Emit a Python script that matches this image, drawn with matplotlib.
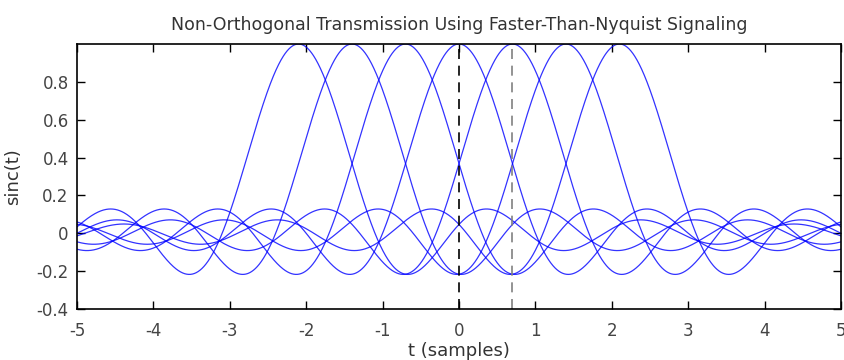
import numpy as np
import matplotlib
matplotlib.use("Agg")
import matplotlib.pyplot as plt

# Data
pulse_centers = [-2.1, -1.4, -0.7, 0.0, 0.7, 1.4, 2.1]   # peak positions of the shifted sinc pulses
sample_marks = [0.0, 0.7]                                # dashed sampling instants
mark_colors = ["black", "#808080"]
x_ticks = [-5, -4, -3, -2, -1, 0, 1, 2, 3, 4, 5]
y_ticks = [-0.4, -0.2, 0, 0.2, 0.4, 0.6, 0.8]
y_tick_labels = ["-0.4", "-0.2", "0", "0.2", "0.4", "0.6", "0.8"]

title = "Non-Orthogonal Transmission Using Faster-Than-Nyquist Signaling"
xlabel = "t (samples)"
ylabel = "sinc(t)"

fig = plt.figure(figsize=(8.45, 3.6), dpi=100)
ax = fig.add_axes([77 / 845, 1 - 309 / 360, (841 - 77) / 845, (309 - 44) / 360])

t = np.linspace(-5, 5, 2001)
for c in pulse_centers:
    ax.plot(t, np.sinc(t - c), color="#0000ff", lw=0.9, alpha=0.8)

for m, col in zip(sample_marks, mark_colors):
    ax.axvline(m, color=col, lw=1.2, ls=(0, (6, 4)))

ax.set_xlim(-5, 5)
ax.set_ylim(-0.4, 1.0)
ax.set_xticks(x_ticks)
ax.set_xticklabels([str(v) for v in x_ticks])
ax.set_yticks(y_ticks)
ax.set_yticklabels(y_tick_labels)
ax.tick_params(direction="in", length=6, width=1, top=True, right=True,
               labelsize=12, colors="black", labelcolor="#444444")
ax.tick_params(axis="x", pad=9)
ax.tick_params(axis="y", pad=6)
for s in ax.spines.values():
    s.set_linewidth(1.2)

ax.set_title(title, fontsize=12.5, color="#333333", pad=10)
ax.set_xlabel(xlabel, fontsize=13, color="#333333", labelpad=2)
ax.set_ylabel(ylabel, fontsize=13, color="#333333", labelpad=10)

fig.savefig("out.png", dpi=100)
